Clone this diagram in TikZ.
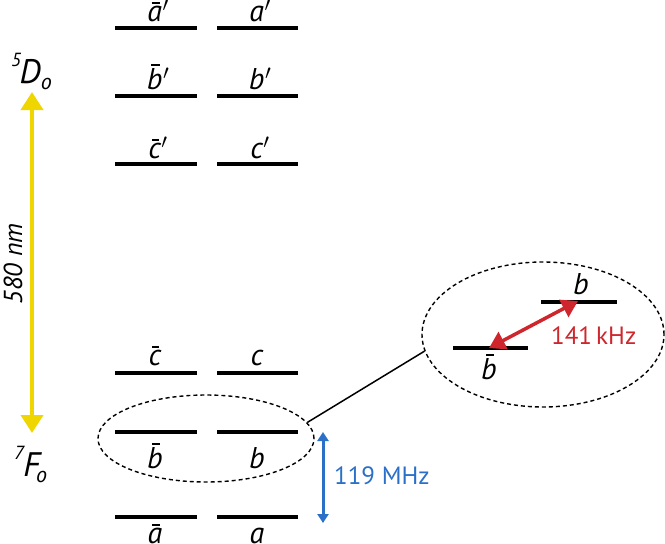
\documentclass[tikz,border=0pt]{standalone}
\usepackage{fontspec}
\setmainfont{PT Sans}
\usetikzlibrary{arrows.meta,shapes.geometric}
\definecolor{myyellow}{RGB}{240,214,0}
\definecolor{myblue}{RGB}{42,112,200}
\definecolor{myred}{RGB}{206,38,44}
\newcommand\ovl[1]{\leavevmode\setbox0\hbox{#1}\rlap{\kern0.3\wd0\raise1.08\ht0\hbox{\rule{0.55\wd0}{0.07em}}}\box0}
\newcommand\prm{\kern0.02em$^{\prime}$}
\begin{document}
\begin{tikzpicture}[x=1pt,y=-1pt,
  lvl/.style={line width=4pt},
  lab/.style={font=\fontsize{30}{30}\selectfont\itshape, inner sep=0pt, anchor=base},
  term/.style={font=\fontsize{34}{34}\selectfont\itshape, inner sep=0pt, anchor=base west},
  ring/.style={ellipse, draw, dashed, line width=1.4pt, dash pattern=on 4pt off 3pt, inner sep=0pt}]
\useasboundingbox (0,0) rectangle (665,544);
% levels
\foreach \y in {28,96,164,373,432,517}{
  \draw[lvl] (115,\y) -- (197,\y);
  \draw[lvl] (217,\y) -- (298,\y);
}
% labels
\node[lab] (la1) at (158,21) {\ovl{a}\prm};
\node[lab] (la2) at (260,21) {a\prm};
\node[lab] (lb1) at (158,89) {\ovl{b}\prm};
\node[lab] (lb2) at (260,89) {b\prm};
\node[lab] (lc1) at (158,158) {\ovl{c}\prm};
\node[lab] (lc2) at (260,158) {c\prm};
\node[lab] (ld1) at (155,365) {\ovl{c}};
\node[lab] (ld2) at (257,365) {c};
\node[lab] (le1) at (155,468) {\ovl{b}};
\node[lab] (le2) at (257,468) {b};
\node[lab] (lf1) at (155,543) {\ovl{a}};
\node[lab] (lf2) at (257,543) {a};
% terms
\node[term] (D) at (11,83) {\raisebox{0.5em}{\fontsize{19}{19}\selectfont 5}\kern-0.04em D\raisebox{-0.18em}{\fontsize{22}{22}\selectfont o}};
\node[term] (F) at (14,476) {\raisebox{0.5em}{\fontsize{19}{19}\selectfont 7}\kern-0.02em F\kern-0.12em\raisebox{-0.18em}{\fontsize{22}{22}\selectfont o}};
% yellow arrow
\coordinate (ytop) at (32,92);
\coordinate (ybot) at (32,433);
\draw[myyellow, line width=4pt, {Triangle[width=22pt,length=18pt]}-{Triangle[width=22pt,length=18pt]}] (ytop) -- (ybot);
\node[font=\fontsize{26}{26}\selectfont\itshape, rotate=90, inner sep=0pt] (nm) at (13,264) {580 nm};
% blue arrow
\coordinate (btop) at (323,432);
\coordinate (bbot) at (323,523);
\draw[myblue, line width=3pt, {Triangle[width=11pt,length=9pt]}-{Triangle[width=11pt,length=9pt]}] (btop) -- (bbot);
\node[font=\fontsize{25}{25}\selectfont, text=myblue, inner sep=0pt, anchor=base west] (mhz) at (334,484) {119 MHz};
% ellipses
\node[ring, minimum width=216pt, minimum height=87pt] (e1) at (206,438.5) {};
\node[ring, minimum width=242pt, minimum height=145pt] (e2) at (543,334.5) {};
\draw[line width=1.5pt] (e1.9) -- (e2.188.6);
% inner levels
\draw[lvl] (541,302) -- (617,302);
\draw[lvl] (453,348) -- (528,348);
\node[lab] (ib) at (581,294) {b};
\node[lab] (ibb) at (489,379) {\ovl{b}};
\coordinate (rtop) at (578,301);
\coordinate (rbot) at (489,348);
\draw[myred, line width=3.5pt, {Triangle[width=19pt,length=16pt]}-{Triangle[width=19pt,length=16pt]}] (rbot) -- (rtop);
\node[font=\fontsize{25}{25}\selectfont, text=myred, inner sep=0pt, anchor=base west] (khz) at (551,344) {141\,kHz};
\end{tikzpicture}
\end{document}
